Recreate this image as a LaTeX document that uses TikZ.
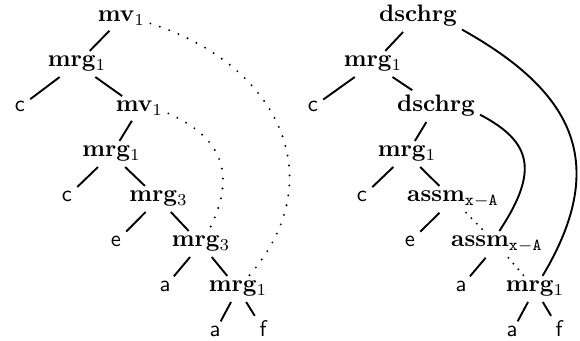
\documentclass[tikz,border=0pt]{standalone}
\begin{document}
\begin{tikzpicture}[x=0.42pt,y=-0.42pt,
  every node/.style={inner sep=2pt, anchor=base},
  int/.style={font=\bfseries},
  leaf/.style={font=\fontsize{9.5}{11}\selectfont\sffamily},
  edge/.style={line width=0.8pt},
  dots/.style={line width=0.9pt, line cap=round, dash pattern=on 0pt off 4.2pt},
  sdots/.style={line width=0.9pt, line cap=round, dash pattern=on 0pt off 3.2pt}]
\useasboundingbox (0,0) rectangle (580,341);
% left tree
\node[int] (l1) at (121.5,22) {mv$_1$};
\node[int] (l2) at (77,67) {mrg$_1$};
\node[leaf] (lc1) at (20,112) {c};
\node[int] (l3) at (139.5,112) {mv$_1$};
\node[int] (l4) at (111.5,157) {mrg$_1$};
\node[leaf] (lc2) at (67,202) {c};
\node[int] (l5) at (158.5,202) {mrg$_3$};
\node[leaf] (le) at (116,247) {e};
\node[int] (l6) at (201,247) {mrg$_3$};
\node[leaf] (la1) at (165,292) {a};
\node[int] (l7) at (238,292) {mrg$_1$};
\node[leaf] (la2) at (215,337) {a};
\node[leaf] (lf) at (263,337) {f};
\draw[edge] (l1)--(l2) (l2)--(lc1) (l2)--(l3) (l3)--(l4) (l4)--(lc2) (l4)--(l5)
  (l5)--(le) (l5)--(l6) (l6)--(la1) (l6)--(l7) (l7)--(la2) (l7)--(lf);
\draw[dots] (l1.-10) .. controls (276,63) and (335,177) .. (l7.50);
\draw[dots] (l3.-10) .. controls (217,135) and (240,170) .. (l6.60);
% right tree
\node[int] (r1) at (418,22) {dschrg};
\node[int] (r2) at (373,67) {mrg$_1$};
\node[leaf] (rc1) at (313,112) {c};
\node[int] (r3) at (436,112) {dschrg};
\node[int] (r4) at (407,157) {mrg$_1$};
\node[leaf] (rc2) at (362,202) {c};
\node[int] (r5) at (453,202) {assm$_{\mathtt{x-A}}$};
\node[leaf] (re) at (410,247) {e};
\node[int] (r6) at (497,247) {assm$_{\mathtt{x-A}}$};
\node[leaf] (ra1) at (461,292) {a};
\node[int] (r7) at (535,292) {mrg$_1$};
\node[leaf] (ra2) at (512,337) {a};
\node[leaf] (rf) at (559,337) {f};
\draw[edge] (r1)--(r2) (r2)--(rc1) (r2)--(r3) (r3)--(r4) (r4)--(rc2) (r4)--(r5)
  (r5)--(re) (r6)--(ra1) (r7)--(ra2) (r7)--(rf);
\draw[sdots] (r5)--(r6);
\draw[sdots] (r6)--(r7);
\draw[edge] (r1.-17) .. controls (570,90) and (612,160) .. (r7.60);
\draw[edge] (r3.-11) .. controls (532,142) and (539,171) .. (r6.80);
\end{tikzpicture}
\end{document}
